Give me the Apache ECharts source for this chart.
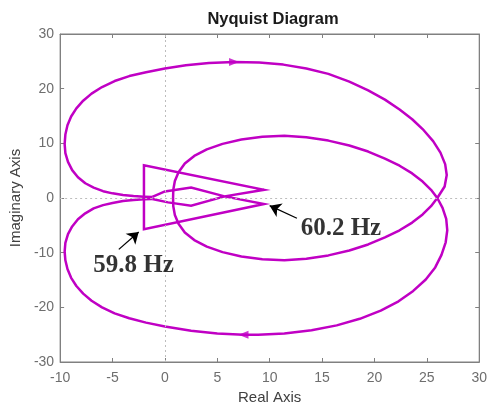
<!DOCTYPE html>
<html>
<head>
<meta charset="utf-8">
<script src="https://cdn.jsdelivr.net/npm/echarts@6/dist/echarts.min.js"></script>
<style>
html,body{margin:0;padding:0;background:#fff;}
#chart{width:490px;height:410px;}
</style>
</head>
<body>
<div id="chart"></div>
<script>
// ---- data ----
var xTicks = [-10, -5, 0, 5, 10, 15, 20, 25, 30];
var yTicks = [-30, -20, -10, 0, 10, 20, 30];

// central zig-zag near the 60 Hz resonance
var centerPath = [[-1.2,-0.2],[0.3,-0.8],[2.5,-1.4],[5.7,0.3],[9.46,1.5],[-2.0,6.0],[-2.0,-5.7],[9.46,-1.1],[5.7,0.3],[2.5,1.9],[0.0,1.2],[-1.2,0.2]];

var outerUpper = [[-1.2,0.2],[-2.0,0.25],[-3.0,0.35],[-4.0,0.55],[-5.0,0.85],[-5.9,1.25],[-6.8,1.9],[-7.6,2.7],[-8.3,3.8],[-8.85,5.1],[-9.25,6.6],[-9.5,8.2],[-9.57,9.9],[-9.5,11.6],[-9.3,13.3],[-8.95,14.9],[-8.45,16.4],[-7.8,17.8],[-7.0,19.1],[-6.0,20.3],[-4.8,21.4],[-3.4,22.3],[-1.8,23.0],[0,23.7],[2.0,24.3],[4.2,24.7],[6.6,24.9],[9.0,24.8],[11.3,24.4],[13.5,23.7],[15.6,22.7],[17.6,21.3],[19.4,19.7],[21.0,18.0],[22.4,16.2],[23.6,14.4],[24.7,12.4],[25.6,10.4],[26.3,8.3],[26.75,6.2],[26.9,4.2],[26.7,2.1],[26.0,0]];

var innerLower = [[26.0,0],[25.4,-1.5],[24.6,-3.0],[23.6,-4.5],[22.4,-5.9],[21.0,-7.2],[19.4,-8.5],[17.6,-9.6],[15.6,-10.5],[13.5,-11.1],[11.4,-11.4],[9.3,-11.2],[7.3,-10.7],[5.5,-9.9],[4.0,-8.9],[2.8,-7.7],[1.9,-6.3],[1.3,-4.7],[0.95,-3.1],[0.8,-1.5],[0.78,0]];

var innerUpper = [[0.78,0],[0.8,1.5],[0.95,3.1],[1.3,4.7],[1.9,6.3],[2.8,7.7],[4.0,8.9],[5.5,9.9],[7.3,10.7],[9.3,11.2],[11.4,11.4],[13.5,11.1],[15.6,10.5],[17.6,9.6],[19.4,8.5],[21.0,7.2],[22.4,5.9],[23.6,4.5],[24.6,3.0],[25.4,1.5],[26.0,0]];

var outerLower = [[26.0,0],[26.5,-1.8],[26.85,-3.8],[26.95,-5.9],[26.8,-8.1],[26.4,-10.4],[25.8,-12.7],[24.9,-14.9],[23.7,-17.0],[22.3,-18.9],[20.6,-20.6],[18.6,-22.1],[16.4,-23.3],[14.0,-24.2],[11.4,-24.8],[8.9,-25.0],[7.5,-25.0],[5.0,-24.8],[2.5,-24.3],[0,-23.5],[-1.8,-22.8],[-3.4,-22.0],[-4.8,-21.1],[-6.0,-20.0],[-7.0,-18.8],[-7.8,-17.5],[-8.45,-16.1],[-8.95,-14.6],[-9.3,-13.0],[-9.5,-11.4],[-9.57,-9.8],[-9.5,-8.2],[-9.25,-6.6],[-8.85,-5.2],[-8.3,-3.9],[-7.6,-2.8],[-6.8,-1.9],[-5.9,-1.3],[-5.0,-0.9],[-4.0,-0.55],[-3.0,-0.35],[-2.0,-0.25],[-1.2,-0.2]];

// direction arrows on the curve: [x, y, rotation]
var dirArrows = [[6.6, 24.9, -90], [7.5, -25.0, 90]];

// annotations
var annotArrows = [
  [[-4.4,-9.4],[-2.5,-6.2]],
  [[12.6,-3.7],[10.0,-1.4]]
];
var annotLabels = [
  {name: '59.8 Hz', value: [-3.0, -12.3]},
  {name: '60.2 Hz', value: [16.8, -5.6]}
];

var curveColor = '#c000c4';
var axisGray = '#808080';
var labelGray = '#6e6e6e';

var curve = [].concat(outerUpper, innerLower.slice(1), innerUpper.slice(1), outerLower.slice(1));

var chart = echarts.init(document.getElementById('chart'), null, {renderer: 'canvas'});

function sideAxis(pos, min, max, interval) {
  return {
    type: 'value', min: min, max: max, interval: interval, position: pos,
    axisLine: {show: true, onZero: false, lineStyle: {color: axisGray}},
    axisTick: {show: true, inside: true, length: 4, lineStyle: {color: axisGray}},
    axisLabel: {show: false}, splitLine: {show: false}
  };
}

var option = {
  animation: false,
  backgroundColor: '#ffffff',
  title: {
    text: 'Nyquist Diagram',
    left: 268,
    textAlign: 'center',
    top: 6,
    textStyle: {fontFamily: 'Liberation Sans, Arial', fontWeight: 'bold', fontSize: 16.5, color: '#1a1a1a'}
  },
  grid: {left: 58, right: 8, top: 34, bottom: 48, show: true, borderColor: axisGray, borderWidth: 1, containLabel: false},
  xAxis: [{
    type: 'value', min: -10, max: 30, interval: 5, position: 'bottom',
    name: 'Real Axis', nameLocation: 'middle', nameGap: 28,
    nameTextStyle: {fontFamily: 'Liberation Sans, Arial', fontSize: 15, color: '#404040'},
    axisLine: {show: true, onZero: false, lineStyle: {color: axisGray}},
    axisTick: {show: true, inside: true, length: 4, lineStyle: {color: axisGray}},
    axisLabel: {margin: 9, fontFamily: 'Liberation Sans, Arial', fontSize: 14, color: labelGray},
    splitLine: {show: false}
  }, sideAxis('top', -10, 30, 5)],
  yAxis: [{
    type: 'value', min: -30, max: 30, interval: 10, position: 'left',
    name: 'Imaginary Axis', nameLocation: 'middle', nameGap: 34,
    nameTextStyle: {fontFamily: 'Liberation Sans, Arial', fontSize: 15, color: '#404040'},
    axisLine: {show: true, onZero: false, lineStyle: {color: axisGray}},
    axisTick: {show: true, inside: true, length: 4, lineStyle: {color: axisGray}},
    axisLabel: {margin: 6, fontFamily: 'Liberation Sans, Arial', fontSize: 14, color: labelGray},
    splitLine: {show: false}
  }, sideAxis('right', -30, 30, 10)],
  series: [
    {
      type: 'line', data: [], z: 1, silent: true,
      markLine: {
        silent: true, symbol: 'none', animation: false,
        label: {show: false},
        lineStyle: {type: [2, 3], color: '#bdbdbd', width: 1},
        data: [{xAxis: 0}, {yAxis: 0}]
      }
    },
    {
      type: 'line', data: curve, z: 3, showSymbol: false, smooth: false,
      lineStyle: {color: curveColor, width: 2.5, join: 'round'}
    },
    {
      type: 'line', data: centerPath, z: 3, showSymbol: false, smooth: false,
      lineStyle: {color: curveColor, width: 2.5, join: 'miter'}
    },
    {
      type: 'scatter', z: 4,
      data: dirArrows.map(function (a) { return {value: [a[0], a[1]], symbolRotate: a[2]}; }),
      symbol: 'triangle', symbolSize: [8, 10],
      itemStyle: {color: curveColor}
    },
    {
      type: 'lines', coordinateSystem: 'cartesian2d', z: 5,
      symbol: ['none', 'arrow'], symbolSize: 11,
      lineStyle: {color: '#000', width: 1.3, opacity: 1},
      data: annotArrows.map(function (c) { return {coords: c}; })
    },
    {
      type: 'scatter', z: 6, symbolSize: 0,
      data: annotLabels,
      label: {
        show: true, position: 'inside', formatter: '{b}',
        fontFamily: 'Liberation Serif, Times New Roman, serif', fontWeight: 'bold', fontSize: 25, color: '#000'
      }
    }
  ]
};
chart.setOption(option);
</script>
</body>
</html>
